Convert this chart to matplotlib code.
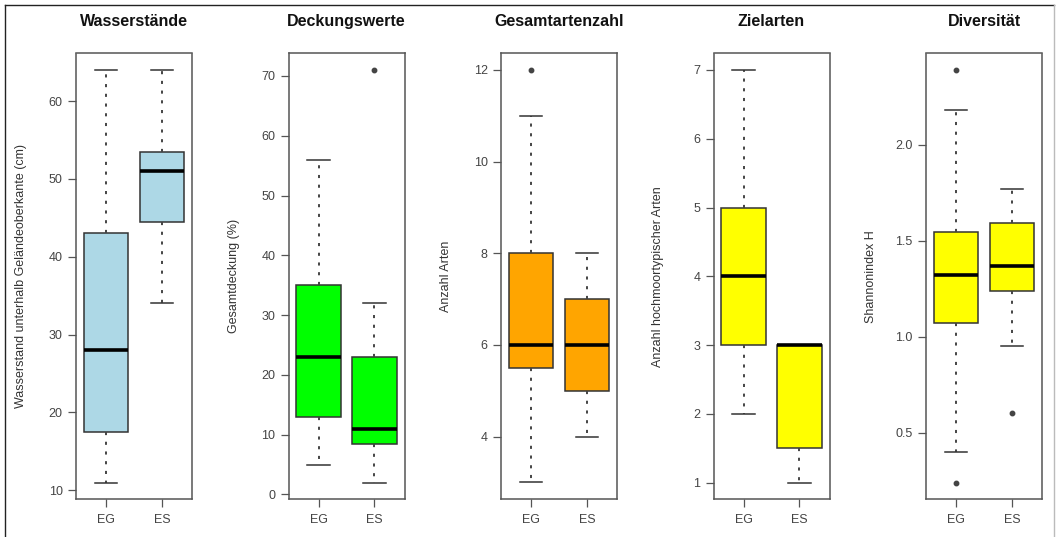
import matplotlib.pyplot as plt
from matplotlib.lines import Line2D

plt.rcParams['font.family'] = ['Liberation Sans', 'DejaVu Sans']

groups = ['EG', 'ES']
titles = ['Wasserstände', 'Deckungswerte', 'Gesamtartenzahl', 'Zielarten', 'Diversität']
ylabels = ['Wasserstand unterhalb Geländeoberkante (cm)', 'Gesamtdeckung (%)',
           'Anzahl Arten', 'Anzahl hochmoortypischer Arten', 'Shannonindex H']
colors = ['#add8e6', '#00ff00', '#ffa500', '#ffff00', '#ffff00']

# box statistics per panel, [EG, ES]
whislo = [[11, 34], [5, 2], [3, 4], [2, 1], [0.40, 0.95]]
q1 = [[17.5, 44.5], [13, 8.5], [5.5, 5], [3, 1.5], [1.07, 1.24]]
med = [[28, 51], [23, 11], [6, 6], [4, 3], [1.32, 1.37]]
q3 = [[43, 53.5], [35, 23], [8, 7], [5, 3], [1.545, 1.595]]
whishi = [[64, 64], [56, 32], [11, 8], [7, 3], [2.18, 1.77]]
fliers = [[[], []], [[], [71]], [[12], []], [[], []], [[0.24, 2.39], [0.60]]]

yticks = [[10, 20, 30, 40, 50, 60],
          [0, 10, 20, 30, 40, 50, 60, 70],
          [4, 6, 8, 10, 12],
          [1, 2, 3, 4, 5, 6, 7],
          [0.5, 1.0, 1.5, 2.0]]

W, H = 1056, 537
fig = plt.figure(figsize=(W / 100, H / 100), dpi=100)

edge = '#333333'
for i in range(5):
    left = 76 + i * 212.5
    ax = fig.add_axes([left / W, (H - 499) / H, 116 / W, (499 - 53.5) / H])

    stats = []
    for g in range(2):
        stats.append(dict(med=med[i][g], q1=q1[i][g], q3=q3[i][g],
                          whislo=whislo[i][g], whishi=whishi[i][g],
                          fliers=fliers[i][g], label=groups[g]))

    ax.bxp(stats, positions=[1, 2], widths=0.8, capwidths=0.4, patch_artist=True,
           boxprops=dict(facecolor=colors[i], edgecolor=edge, linewidth=1.1),
           medianprops=dict(color='black', linewidth=2.6, solid_capstyle='butt'),
           whiskerprops=dict(color='#444444', linewidth=1.4, linestyle=(0, (1.6, 3.4))),
           capprops=dict(color=edge, linewidth=1.1),
           flierprops=dict(marker='o', markersize=3.2, markerfacecolor='#444444',
                           markeredgecolor='#444444'))

    # R style 4% padding of the data range
    allv = whislo[i] + whishi[i] + [v for f in fliers[i] for v in f]
    lo, hi = min(allv), max(allv)
    pad = (hi - lo) * 0.04
    ax.set_ylim(lo - pad, hi + pad)
    ax.set_xlim(0.46, 2.54)

    ax.set_yticks(yticks[i])
    ax.set_xticks([1, 2], groups)
    ax.tick_params(axis='both', direction='out', length=5.5, width=0.9,
                   color='#555555', labelcolor='#444444', labelsize=9, pad=4)
    ax.tick_params(axis='x', pad=5)
    for s in ax.spines.values():
        s.set_color('#555555')
        s.set_linewidth(1.1)

    ax.set_title(titles[i], fontweight='bold', fontsize=11.5, pad=20, color='#111111')
    ax.set_ylabel(ylabels[i], fontsize=9, color='#333333', va='center', ha='center')
    ax.yaxis.set_label_coords(-55 / 116, 0.5)

# outer frame of the figure
fig.add_artist(Line2D([5 / W, 1054 / W], [1 - 5 / H, 1 - 5 / H], color='#222222', lw=1))
fig.add_artist(Line2D([5 / W, 5 / W], [0, 1 - 5 / H], color='#222222', lw=1))
fig.add_artist(Line2D([1054 / W, 1054 / W], [0, 1 - 5 / H], color='#bbbbbb', lw=1))

fig.savefig('out.png', dpi=100)
